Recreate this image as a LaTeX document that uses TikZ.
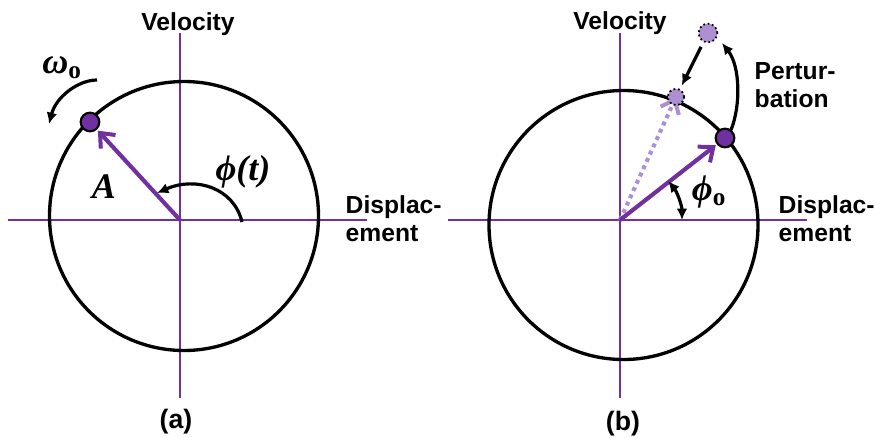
\documentclass[tikz,border=0pt]{standalone}
\usepackage{fontspec}
\setmainfont{Liberation Serif}
\newfontfamily\arialf{Liberation Sans}
\usetikzlibrary{arrows.meta}
\definecolor{vio}{HTML}{7030A0}
\definecolor{lvio}{HTML}{AD8FD2}
\begin{document}
\begin{tikzpicture}[x=0.75pt,y=-0.75pt,
  axis/.style={vio,line width=1.5pt},
  ring/.style={black,line width=2.5pt},
  vec/.style={vio,line width=3.1pt,-{Straight Barb[length=9pt,width=15pt,line width=3pt]}},
  ghostvec/.style={lvio,line width=3.1pt,dash pattern=on 3pt off 3pt,-{Straight Barb[length=9pt,width=15pt,line width=3pt]}},
  blk/.style={black,line width=2.4pt,-{Latex[length=8.5pt,width=8pt]}},
  bdot/.style={circle,fill=vio,draw=black,line width=1.6pt,minimum size=14pt,inner sep=0pt},
  gdot/.style={circle,fill=lvio,draw=black,line width=1.3pt,dotted,inner sep=0pt},
  sans/.style={font=\arialf\bfseries\fontsize{18.5}{21}\selectfont},
  panelcap/.style={font=\arialf\bfseries\fontsize{20}{23}\selectfont},
  mlab/.style={font=\bfseries\itshape\fontsize{27}{30}\selectfont}
]
\useasboundingbox (0,0) rectangle (875,437);
% ---------- panel (a) ----------
\coordinate (oa) at (180,220);
\coordinate (axl) at (8,220);
\coordinate (axr) at (367,220);
\coordinate (axt) at (180,33);
\coordinate (axb) at (180,398);
\draw[axis] (axl) -- (axr);
\draw[axis] (axt) -- (axb);
\node[ring,circle,draw,minimum size=269pt*0.75,inner sep=0pt] (ca) at (184,216) {};
\node[bdot] (pa) at (90,122) {};
\draw[vec,shorten >=1pt] (oa) -- (pa);
\coordinate (pha1) at (242,222);
\coordinate (pha2) at (157,193);
\draw[blk] (pha1) .. controls (234,188) and (196,176) .. (pha2);
\coordinate (wa1) at (97,80);
\coordinate (wa2) at (49,124);
\draw[blk] (wa1) .. controls (78,80) and (56,97) .. (wa2);
\node[mlab] (wlab) at (62,68) {ω\textsubscript{\upshape o}};
\node[mlab] (alab) at (104,187) {A};
\node[mlab] (phlab) at (243,172) {ϕ(t)};
\node[sans] (vela) at (188,24) {Velocity};
\node[sans,anchor=west,align=left] (disa) at (341,219) {Displac-\\ement};
\node[panelcap] (la) at (176,422) {(a)};
% ---------- panel (b) ----------
\coordinate (ob) at (620,220);
\coordinate (bxl) at (448,220);
\coordinate (bxr) at (807,220);
\coordinate (bxt) at (620,33);
\coordinate (bxb) at (620,398);
\draw[axis] (bxl) -- (bxr);
\draw[axis] (bxt) -- (bxb);
\node[ring,circle,draw,minimum size=269pt*0.75,inner sep=0pt] (cb) at (623.5,225) {};
\node[gdot,minimum size=12pt] (qb) at (676,97) {};
\node[gdot,minimum size=14pt] (ub) at (708,33) {};
\draw[ghostvec,shorten >=0pt] (ob) -- (qb.center);
\node[gdot,minimum size=12pt] at (676,97) {};
\node[bdot] (pb) at (725,138) {};
\draw[vec,shorten >=1pt] (ob) -- (pb);
\draw[blk,shorten <=4pt,shorten >=3pt] (ub) -- (qb);
\coordinate (pc1) at (731,130);
\coordinate (pc2) at (722,43);
\draw[blk] (pc1) .. controls (741,105) and (740,66) .. (pc2);
\coordinate (arc0) at (682,220);
\draw[black,line width=2.4pt,{Latex[length=8.5pt,width=8pt]}-{Latex[length=8.5pt,width=8pt]}] (arc0) arc[start angle=0,end angle=-39,radius=62];
\node[mlab] (phob) at (709,192) {ϕ\textsubscript{\upshape o}};
\node[sans] (velb) at (620,23) {Velocity};
\node[sans,anchor=west,align=left] (disb) at (774,219) {Displac-\\ement};
\node[sans,anchor=west,align=left] (pert) at (750,85) {Pertur-\\bation};
\node[panelcap] (lb) at (623,424) {(b)};
\end{tikzpicture}
\end{document}
